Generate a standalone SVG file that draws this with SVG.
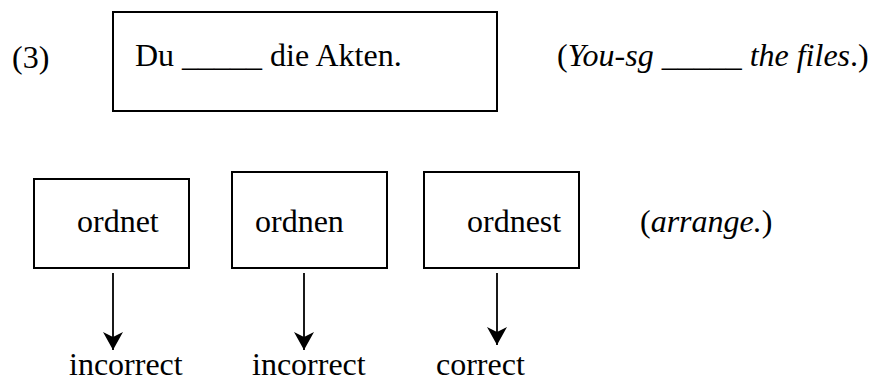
<svg xmlns="http://www.w3.org/2000/svg" width="873" height="383" viewBox="0 0 873 383">
  <style>
    text { font-family: "Liberation Serif", "Times New Roman", Times, Tinos, "Nimbus Roman", "Nimbus Roman No9 L", "Noto Serif", "FreeSerif", "DejaVu Serif", serif; font-size: 32px; fill: #000; }
    .it { font-style: italic; }
    .box { fill: #fff; stroke: #000; stroke-width: 2; }
    .conn { stroke: #000; stroke-width: 1.8; fill: none; }
  </style>
  <defs>
    <marker id="head" markerUnits="userSpaceOnUse" markerWidth="22" markerHeight="20" refX="18" refY="10" orient="auto">
      <path d="M0,0 L18,10 L0,20 L5,10 Z" fill="#000"/>
    </marker>
  </defs>
  <rect width="873" height="383" fill="#fff"/>

  <text id="label-3" x="12" y="68">(3)</text>

  <g id="sentence">
    <rect class="box" x="113" y="12" width="384" height="99"/>
    <text x="135" y="66">Du _____ die Akten.</text>
  </g>

  <text id="gloss" x="557" y="66">(<tspan class="it">You-sg _____ the files</tspan>.)</text>

  <g id="opt-ordnet">
    <rect class="box" x="34" y="179" width="155" height="89"/>
    <text x="77" y="232">ordnet</text>
  </g>
  <g id="opt-ordnen">
    <rect class="box" x="232" y="172" width="155" height="96"/>
    <text x="255" y="232">ordnen</text>
  </g>
  <g id="opt-ordnest">
    <rect class="box" x="424" y="172" width="155" height="96"/>
    <text x="467" y="232">ordnest</text>
  </g>

  <text id="gloss-arrange" x="640" y="232">(<tspan class="it">arrange.</tspan>)</text>

  <g id="connectors">
    <line class="conn" x1="113" y1="273" x2="113" y2="350" marker-end="url(#head)"/>
    <line class="conn" x1="304" y1="273" x2="304" y2="350" marker-end="url(#head)"/>
    <line class="conn" x1="497" y1="273" x2="497" y2="345" marker-end="url(#head)"/>
  </g>

  <text id="res-1" x="69" y="375">incorrect</text>
  <text id="res-2" x="252" y="375">incorrect</text>
  <text id="res-3" x="436" y="375">correct</text>
</svg>
